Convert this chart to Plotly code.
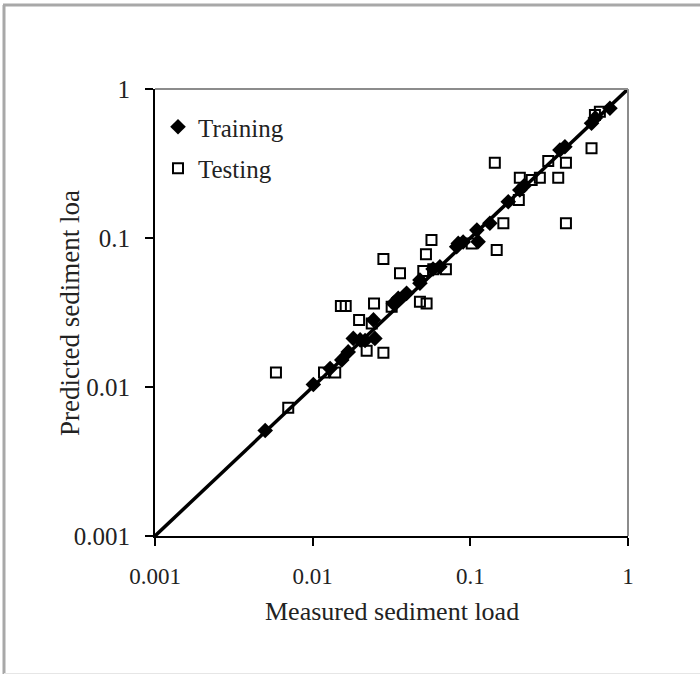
import plotly.graph_objects as go

# Training data (measured, predicted)
train_measured = [0.005, 0.0101, 0.0129, 0.0153, 0.0168, 0.0181, 0.0200, 0.0215, 0.0248, 0.0243,
                  0.0325, 0.0349, 0.0394, 0.0479, 0.0479, 0.058, 0.0641, 0.0819, 0.0838, 0.090,
                  0.110, 0.112, 0.133, 0.174, 0.206, 0.220, 0.370, 0.398, 0.587, 0.620, 0.768]
train_predicted = [0.0051, 0.0104, 0.0133, 0.0152, 0.0172, 0.0212, 0.0207, 0.0205, 0.0212, 0.0282,
                   0.0364, 0.0394, 0.0425, 0.0497, 0.0523, 0.062, 0.0641, 0.0875, 0.092, 0.094,
                   0.113, 0.0945, 0.1255, 0.175, 0.210, 0.225, 0.390, 0.410, 0.589, 0.640, 0.742]

# Testing data (measured, predicted)
test_measured = [0.00585, 0.0070, 0.0118, 0.0139, 0.0151, 0.0162, 0.0245, 0.0197, 0.0237, 0.0317,
                 0.0220, 0.0281, 0.0281, 0.0358, 0.0503, 0.0523, 0.0567, 0.0582, 0.070, 0.0479,
                 0.0528, 0.102, 0.147, 0.162, 0.143, 0.206, 0.245, 0.276, 0.203, 0.312,
                 0.404, 0.361, 0.587, 0.404, 0.617, 0.663]
test_predicted = [0.0125, 0.00726, 0.0125, 0.0125, 0.035, 0.035, 0.0364, 0.0282, 0.0267, 0.0346,
                  0.0175, 0.0170, 0.0723, 0.058, 0.0601, 0.0777, 0.097, 0.0617, 0.0617, 0.0374,
                  0.0364, 0.092, 0.083, 0.1255, 0.320, 0.254, 0.245, 0.254, 0.180, 0.329,
                  0.320, 0.254, 0.400, 0.1255, 0.670, 0.704]

line_x = [0.001, 1]
line_y = [0.001, 1]

tick_vals = [0.001, 0.01, 0.1, 1]
tick_text = ["0.001", "0.01", "0.1", "1"]

FONT = "Liberation Serif, Times New Roman, serif"
W, H = 700, 675
L, R, T, B = 155, 628, 89, 536

def px(xp):
    return (xp - L) / (R - L)

def py(yp):
    return (B - yp) / (B - T)

fig = go.Figure()
fig.add_trace(go.Scatter(x=line_x, y=line_y, mode="lines",
                         line=dict(color="black", width=3.5), showlegend=False, hoverinfo="skip"))
fig.add_trace(go.Scatter(x=train_measured, y=train_predicted, mode="markers", name="Training",
                         legendgroup="a",
                         marker=dict(symbol="diamond", size=12, color="black",
                                     line=dict(width=0))))
fig.add_trace(go.Scatter(x=test_measured, y=test_predicted, mode="markers", name="Testing",
                         legendgroup="b",
                         marker=dict(symbol="square-open", size=10, color="black",
                                     line=dict(width=2, color="black"))))

axis_common = dict(
    type="log", tickvals=tick_vals, ticktext=tick_text,
    showgrid=False, zeroline=False, showline=True, linecolor="black", linewidth=2,
    ticks="outside", ticklen=8, tickwidth=1.5, tickcolor="black",
)

fig.update_layout(
    width=W, height=H,
    margin=dict(l=L, r=W - R, t=T, b=H - B),
    paper_bgcolor="white", plot_bgcolor="white",
    xaxis=dict(range=[-3, 0], ticklabelstandoff=10,
               tickfont=dict(family=FONT, size=23, color="#222"), **axis_common),
    yaxis=dict(range=[-3, 0], ticklabelstandoff=10,
               tickfont=dict(family=FONT, size=25, color="#222"), **axis_common),
    showlegend=True,
    legend=dict(x=px(158), y=py(104), xanchor="left", yanchor="top",
                bgcolor="rgba(0,0,0,0)", borderwidth=0, tracegroupgap=6,
                font=dict(family=FONT, size=25, color="#222")),
    annotations=[
        dict(text="Measured sediment load", x=px(392), y=py(611), xref="paper", yref="paper",
             showarrow=False, xanchor="center", yanchor="middle",
             font=dict(family=FONT, size=26, color="#222")),
        dict(text="Predicted sediment loa", x=px(70), y=py(313), xref="paper", yref="paper",
             showarrow=False, xanchor="center", yanchor="middle", textangle=-90,
             font=dict(family=FONT, size=27, color="#222")),
    ],
    shapes=[
        # top and right frame of the plot area (gray)
        dict(type="line", xref="paper", yref="paper", x0=0, x1=1, y0=1, y1=1,
             line=dict(color="#8c8c8c", width=2)),
        dict(type="line", xref="paper", yref="paper", x0=1, x1=1, y0=0, y1=1,
             line=dict(color="#8c8c8c", width=2)),
        # outer border of the picture
        dict(type="line", xref="paper", yref="paper", x0=px(3), x1=px(700), y0=py(5), y1=py(5),
             line=dict(color="#a8a8a8", width=3)),
        dict(type="line", xref="paper", yref="paper", x0=px(4), x1=px(4), y0=py(5), y1=py(674),
             line=dict(color="#a8a8a8", width=3)),
        dict(type="line", xref="paper", yref="paper", x0=px(4), x1=px(700), y0=py(673.5), y1=py(673.5),
             line=dict(color="#e6e6e6", width=1)),
    ],
)

fig.write_html("out.html")
